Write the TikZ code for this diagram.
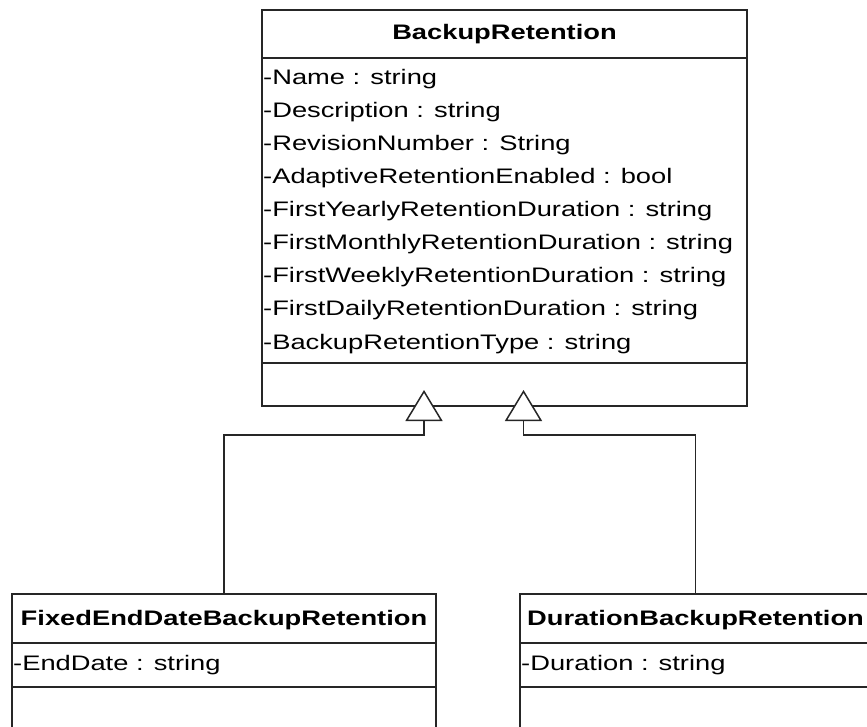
\documentclass[tikz,border=0pt]{standalone}
\usepackage{fontspec}
\setmainfont[FakeStretch=1.3]{Liberation Sans}
\usetikzlibrary{arrows.meta}

\begin{document}
\begin{tikzpicture}[x=1pt,y=-1pt,
  umlline/.style={draw=black!85, line width=1.5pt},
  classbox/.style={umlline, rectangle, inner sep=0pt, outer sep=0pt, fill=white},
  attr/.style={anchor=base west, inner sep=0pt, font=\fontsize{21}{25}\selectfont},
  classtitle/.style={anchor=base, inner sep=0pt, font=\fontsize{21}{25}\selectfont\bfseries},
  inherit/.style={umlline, -{Triangle[length=31pt, width=37pt, fill=white]}}
]
\clip (0,0) rectangle (867,727);
\fill[white] (0,0) rectangle (867,727);

% Parent class
\node[classbox, anchor=north west, minimum width=485pt, minimum height=396pt] (base) at (262,10) {};
\draw[umlline] (262,58) -- (747,58);
\draw[umlline] (262,363) -- (747,363);
\node[classtitle] (baseTitle) at (504.5,40) {BackupRetention};
\foreach \t [count=\i from 0] in {%
  -Name : string,
  -Description : string,
  -RevisionNumber : String,
  -AdaptiveRetentionEnabled : bool,
  -FirstYearlyRetentionDuration : string,
  -FirstMonthlyRetentionDuration : string,
  -FirstWeeklyRetentionDuration : string,
  -FirstDailyRetentionDuration : string,
  -BackupRetentionType : string}
  \node[attr] (baseAttr\i) at (263,85+33*\i) {\t};

% Child classes
\node[classbox, anchor=north west, minimum width=424pt, minimum height=170pt] (fixed) at (12,594) {};
\draw[umlline] (12,643) -- (436,643);
\draw[umlline] (12,687) -- (436,687);
\node[classtitle] (fixedTitle) at (224,625) {FixedEndDateBackupRetention};
\node[attr] (fixedAttr) at (13,670) {-EndDate : string};

\node[classbox, anchor=north west, minimum width=351pt, minimum height=170pt] (dur) at (520,594) {};
\draw[umlline] (520,643) -- (871,643);
\draw[umlline] (520,687) -- (871,687);
\node[classtitle] (durTitle) at (695.5,625) {DurationBackupRetention};
\node[attr] (durAttr) at (521,670) {-Duration : string};

% Generalization connectors
\coordinate (bendA) at (424,435);
\coordinate (tipA) at (424,390);
\coordinate (bendB) at (523.5,435);
\coordinate (tipB) at (523.5,390);
\draw[inherit] (fixed.north) |- (bendA) -- (tipA);
\draw[inherit] (dur.north) |- (bendB) -- (tipB);
\end{tikzpicture}
\end{document}
